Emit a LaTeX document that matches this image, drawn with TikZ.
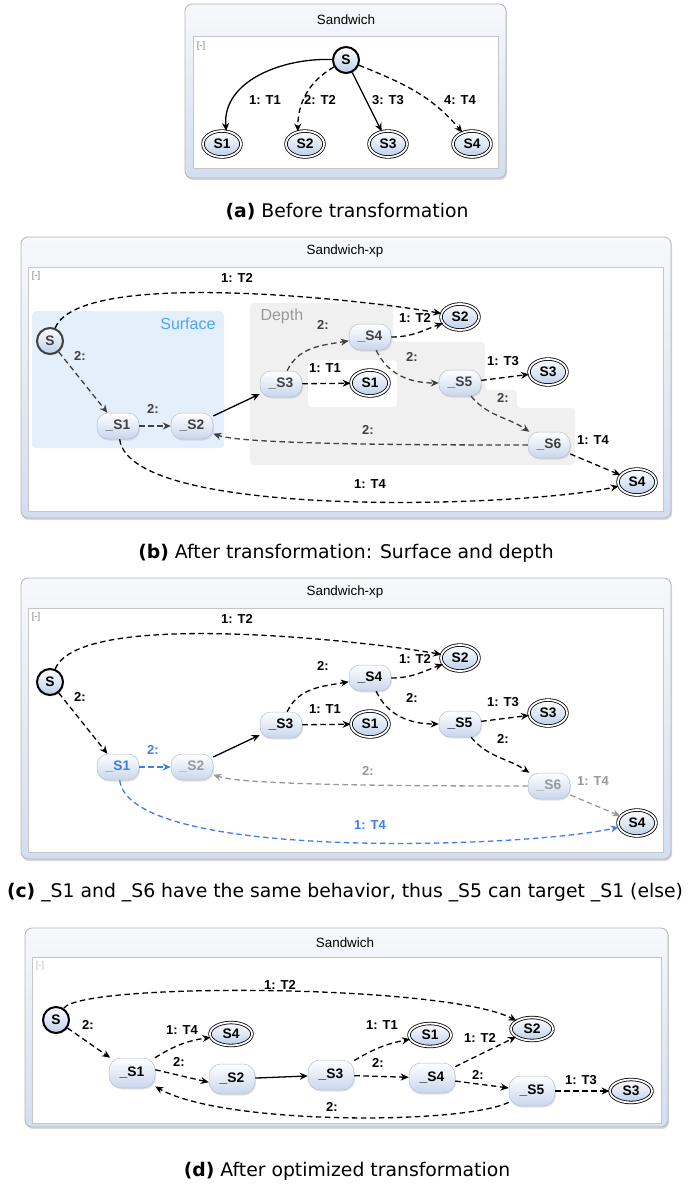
\documentclass[tikz,border=0pt]{standalone}
\usepackage{fontspec}
\setmainfont{DejaVu Sans}
\newfontfamily\diagfont{Liberation Sans}
\usetikzlibrary{arrows.meta, positioning, shapes.geometric, shadows}

\definecolor{framegray}{HTML}{B4B4B4}
\definecolor{framtop}{HTML}{F7F8FB}
\definecolor{framblue}{HTML}{D2DEF0}
\definecolor{canvasgray}{HTML}{C6C6C6}
\definecolor{stblue}{HTML}{BCCEEA}
\definecolor{hidblue}{HTML}{C8D6EC}
\definecolor{hidedge}{HTML}{B2C0D6}
\definecolor{surfblue}{HTML}{E4EFFC}
\definecolor{surftext}{HTML}{4EA4F6}
\definecolor{depthgray}{HTML}{F0F0F0}
\definecolor{depthtext}{HTML}{999999}
\definecolor{dimgray}{HTML}{404040}
\definecolor{fadegray}{HTML}{999999}
\definecolor{selblue}{HTML}{3F7CF0}

\tikzset{
  frame/.style={draw=framegray, line width=0.8pt, rounded corners=7pt, top color=framtop, bottom color=framblue,
    drop shadow={opacity=0.3, shadow xshift=1pt, shadow yshift=-2pt}},
  canvas/.style={draw=canvasgray, line width=0.8pt, fill=white},
  paneltitle/.style={font=\diagfont\fontsize{13.4}{16}\selectfont},
  hint/.style={font=\diagfont\fontsize{9.5}{11}\selectfont, text=gray},
  caption/.style={anchor=base, font=\fontsize{18.8}{22}\selectfont},
  stnode/.style={top color=white, bottom color=stblue, inner sep=0pt,
    font=\diagfont\bfseries\fontsize{13.8}{15}\selectfont,
    drop shadow={opacity=0.2, shadow xshift=1pt, shadow yshift=-1.5pt}},
  initst/.style={stnode, circle, draw, line width=2pt, minimum size=26pt},
  finst/.style={stnode, ellipse, draw, line width=0.8pt, double=white, double distance=1.8pt,
    minimum width=38pt, minimum height=26pt},
  hidst/.style={stnode, rectangle, rounded corners=11pt, draw=hidedge, line width=0.5pt,
    bottom color=hidblue, minimum width=42pt, minimum height=26pt},
  tr/.style={-{Stealth[length=8pt, width=7pt]}, line width=1.3pt},
  trd/.style={tr, dash pattern=on 5.5pt off 3.5pt},
  lbl/.style={font=\diagfont\bfseries\fontsize{13}{14}\selectfont, inner sep=0pt},
}

\begin{document}
\begin{tikzpicture}[x=1pt, y=1pt, >=Stealth]
  \useasboundingbox (0,0) rectangle (689,-1185);

  % (a) before transformation
  \draw[frame] (185,-4) rectangle (506,-178);
  \draw[canvas] (193,-36) rectangle (498,-168);
  \node[paneltitle] (atitle) at (346,-20) {Sandwich};
  \node[hint] (ahint) at (201,-46) {[-]};

  \node[initst] (aS) at (346,-60) {S};
  \node[finst] (aS1) at (222,-144) {S1};
  \node[finst] (aS2) at (305,-144) {S2};
  \node[finst] (aS3) at (388,-144) {S3};
  \node[finst] (aS4) at (472,-144) {S4};

  \draw[tr] (aS) to[out=178, in=95] (aS1.72) node[lbl] at (265,-100) {1: T1};
  \draw[trd] (aS) to[out=210, in=90] (aS2.120) node[lbl] at (320,-100) {2: T2};
  \draw[tr] (aS) -- (aS3) node[lbl] at (388,-100) {3: T3};
  \draw[trd] (aS) to[out=-22, in=130] (aS4) node[lbl] at (460,-100) {4: T4};

  \node[caption] (acap) at (347,-217.7) {\textbf{(a)} Before transformation};

  % (b) surface and depth
  \draw[frame] (21,-237) rectangle (671,-518);
  \draw[canvas] (28,-267) rectangle (663,-511);
  \node[paneltitle] (btitle) at (345,-251) {Sandwich-xp};
  \node[hint] (bhint) at (36,-276) {[-]};

  \fill[surfblue, rounded corners=4pt] (32,-311) rectangle (224,-448);
  \fill[depthgray, rounded corners=4pt] (250,-303) -- (393,-303) -- (393,-342) -- (485,-342) -- (485,-390)
    -- (517,-390) -- (517,-408) -- (575,-408) -- (575,-465) -- (250,-465) -- cycle;
  \fill[white, rounded corners=4pt] (308,-360) rectangle (397,-407);
  \node[font=\diagfont\fontsize{16}{18}\selectfont, text=surftext, anchor=east] (surf) at (219,-324) {Surface};
  \node[font=\diagfont\fontsize{16}{18}\selectfont, text=depthtext, anchor=west] (depth) at (257,-316) {Depth};

  \node[initst, draw=dimgray, text=dimgray] (bS) at (50,-341) {S};
  \node[hidst, text=dimgray] (bs1) at (118,-426) {\_S1};
  \node[hidst, text=dimgray] (bs2) at (192,-426) {\_S2};
  \node[hidst, text=dimgray] (bs3) at (281,-384) {\_S3};
  \node[hidst, text=dimgray] (bs4) at (370,-337) {\_S4};
  \node[hidst, text=dimgray] (bs5) at (460,-383) {\_S5};
  \node[hidst, text=dimgray] (bs6) at (549,-445) {\_S6};
  \node[finst] (bS1) at (370,-383) {S1};
  \node[finst] (bS2) at (460,-317) {S2};
  \node[finst] (bS3) at (548,-372) {S3};
  \node[finst] (bS4) at (637,-482) {S4};

  \draw[trd] (bS) .. controls +(30,75) and +(-80,15) .. (bS2) node[lbl] at (237,-278) {1: T2};
  \draw[trd, dimgray] (bS) -- (bs1) node[lbl] at (80,-356) {2:};
  \draw[trd, dimgray] (bs1) -- (bs2) node[lbl] at (153,-409) {2:};
  \draw[tr] (bs2) -- (bs3);
  \draw[trd, dimgray] (bs3) to[out=65, in=190] (bs4) node[lbl] at (323,-325) {2:};
  \draw[trd] (bs3) -- (bS1) node[lbl] at (325,-368) {1: T1};
  \draw[trd] (bs4) to[out=0, in=200] (bS2) node[lbl] at (415,-318) {1: T2};
  \draw[trd, dimgray] (bs4) to[out=-65, in=180] (bs5) node[lbl] at (412,-357) {2:};
  \draw[trd] (bs5) -- (bS3) node[lbl] at (503,-361) {1: T3};
  \draw[trd, dimgray] (bs5) to[out=-50, in=146] (bs6) node[lbl] at (503,-398) {2:};
  \draw[trd, dimgray] (bs6) .. controls +(-150,0) and +(50,-18) .. (bs2) node[lbl] at (368,-430) {2:};
  \draw[trd] (bs6) -- (bS4) node[lbl] at (593,-440) {1: T4};
  \draw[trd] (bs1) .. controls +(12,-95) and +(-110,-25) .. (bS4) node[lbl] at (370,-484) {1: T4};

  \node[caption] (bcap) at (346,-558.5) {\textbf{(b)} After transformation: Surface and depth};

  % (c) same behavior
  \begin{scope}[yshift=-341pt]
    \draw[frame] (21,-237) rectangle (671,-518);
    \draw[canvas] (28,-267) rectangle (663,-511);
    \node[paneltitle] (ctitle) at (345,-251) {Sandwich-xp};
    \node[hint] (chint) at (36,-276) {[-]};

    \node[initst] (cS) at (50,-341) {S};
    \node[hidst, text=selblue] (cs1) at (118,-426) {\_S1};
    \node[hidst, text=fadegray] (cs2) at (192,-426) {\_S2};
    \node[hidst] (cs3) at (281,-384) {\_S3};
    \node[hidst] (cs4) at (370,-337) {\_S4};
    \node[hidst] (cs5) at (460,-383) {\_S5};
    \node[hidst, text=fadegray] (cs6) at (549,-445) {\_S6};
    \node[finst] (cS1) at (370,-383) {S1};
    \node[finst] (cS2) at (460,-317) {S2};
    \node[finst] (cS3) at (548,-372) {S3};
    \node[finst] (cS4) at (637,-482) {S4};

    \draw[trd] (cS) .. controls +(30,75) and +(-80,15) .. (cS2) node[lbl] at (237,-278) {1: T2};
    \draw[trd] (cS) -- (cs1) node[lbl] at (80,-356) {2:};
    \draw[trd, selblue] (cs1) -- (cs2) node[lbl] at (153,-409) {2:};
    \draw[tr] (cs2) -- (cs3);
    \draw[trd] (cs3) to[out=65, in=190] (cs4) node[lbl] at (323,-325) {2:};
    \draw[trd] (cs3) -- (cS1) node[lbl] at (325,-368) {1: T1};
    \draw[trd] (cs4) to[out=0, in=200] (cS2) node[lbl] at (415,-318) {1: T2};
    \draw[trd] (cs4) to[out=-65, in=180] (cs5) node[lbl] at (412,-357) {2:};
    \draw[trd] (cs5) -- (cS3) node[lbl] at (503,-361) {1: T3};
    \draw[trd] (cs5) to[out=-50, in=146] (cs6) node[lbl] at (503,-398) {2:};
    \draw[trd, fadegray] (cs6) .. controls +(-150,0) and +(50,-18) .. (cs2) node[lbl] at (368,-430) {2:};
    \draw[trd, fadegray] (cs6) -- (cS4) node[lbl] at (593,-440) {1: T4};
    \draw[trd, selblue] (cs1) .. controls +(12,-95) and +(-110,-25) .. (cS4) node[lbl] at (370,-484) {1: T4};
  \end{scope}

  \node[caption] (ccap) at (345,-897.7) {\textbf{(c)} \_S1 and \_S6 have the same behavior, thus \_S5 can target \_S1 (else)};

  % (d) optimized
  \begin{scope}[hidst/.append style={minimum width=46pt, minimum height=30pt, rounded corners=12pt},
      finst/.append style={minimum width=42pt, minimum height=23pt}]
    \draw[frame] (25,-928) rectangle (668,-1127);
    \draw[canvas] (32,-957) rectangle (661,-1123);
    \node[paneltitle] (dtitle) at (345,-943) {Sandwich};
    \node[hint, text=gray!50] (dhint) at (40,-966) {[-]};

    \node[initst] (dS) at (56,-1020) {S};
    \node[hidst] (ds1) at (132,-1073) {\_S1};
    \node[finst] (dS4) at (231,-1034) {S4};
    \node[hidst] (ds2) at (232,-1079) {\_S2};
    \node[hidst] (ds3) at (331,-1075) {\_S3};
    \node[finst] (dS1) at (430,-1035) {S1};
    \node[hidst] (ds4) at (432,-1078) {\_S4};
    \node[finst] (dS2) at (532,-1029) {S2};
    \node[hidst] (ds5) at (532,-1091) {\_S5};
    \node[finst] (dS3) at (631,-1091) {S3};

    \draw[trd] (dS) .. controls +(25,38) and +(-85,45) .. (dS2) node[lbl] at (280,-985) {1: T2};
    \draw[trd] (dS) -- (ds1) node[lbl] at (88,-1025) {2:};
    \draw[trd] (ds1) to[bend left=12] (dS4) node[lbl] at (182,-1030) {1: T4};
    \draw[trd] (ds1.8) -- (ds2.188) node[lbl] at (179,-1062) {2:};
    \draw[tr] (ds2) -- (ds3);
    \draw[trd] (ds3) to[bend left=10] (dS1) node[lbl] at (382,-1025) {1: T1};
    \draw[trd] (ds3) -- (ds4) node[lbl] at (378,-1063) {2:};
    \draw[trd] (ds4) -- (dS2) node[lbl] at (480,-1038) {1: T2};
    \draw[trd] (ds4) -- (ds5) node[lbl] at (478,-1075) {2:};
    \draw[trd] (ds5) -- (dS3) node[lbl] at (581,-1080) {1: T3};
    \draw[trd] (ds5) .. controls +(-70,-34) and +(90,-52) .. (ds1) node[lbl] at (332,-1107) {2:};
  \end{scope}

  \node[caption] (dcap) at (347,-1176) {\textbf{(d)} After optimized transformation};
\end{tikzpicture}
\end{document}
